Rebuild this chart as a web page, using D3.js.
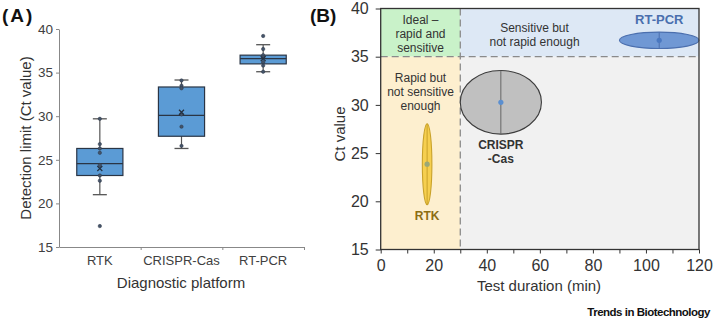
<!DOCTYPE html>
<html>
<head>
<meta charset="utf-8">
<script src="https://cdn.jsdelivr.net/npm/d3@7"></script>
<style>
  body { margin: 0; background: #fff; }
  svg { font-family: "Liberation Sans", Arial, sans-serif; display: block; }
</style>
</head>
<body>
<div id="chart"></div>
<script>
// panel A - box plots of detection limit
const platforms = ["RTK", "CRISPR-Cas", "RT-PCR"];
const q1 = [23.2, 27.7, 36.0];
const medians = [24.55, 30.1, 36.6];
const q3 = [26.3, 33.35, 37.0];
const whiskerLow = [21.0, 26.3, 35.1];
const whiskerHigh = [29.7, 34.15, 38.2];
const means = [24.0, 30.45, 36.6];
const pointValues = [
  [29.7, 26.8, 26.3, 25.8, 24.4, 23.2, 22.6, 17.4],
  [34.1, 33.5, 33.2, 30.2, 28.8, 26.6],
  [39.2, 37.7, 37.0, 36.75, 36.2, 35.8, 35.1]
];
const ctTicksA = [15, 20, 25, 30, 35, 40];

// panel B - ct value vs test duration
const methods = ["RTK", "CRISPR-Cas", "RT-PCR"];
const durations = [17.5, 45.3, 105.0];
const ctCentres = [23.85, 30.27, 36.7];
const durationSpread = [1.8, 15.3, 15.0];
const ctSpread = [4.2, 3.3, 0.85];
const methodLabels = [["RTK"], ["CRISPR", "-Cas"], ["RT-PCR"]];
const timeLimit = 30;
const ctLimit = 35;
const ctTicksB = [15, 20, 25, 30, 35, 40];
const durationTicks = [0, 10, 20, 30, 40, 50, 60, 70, 80, 90, 100, 110, 120];

const width = 714, height = 321;

const svg = d3.select("#chart").append("svg")
  .attr("width", width)
  .attr("height", height);

function panelA() {
  let x = d3.scaleBand().domain(platforms).range([59, 304]).padding(0);
  let y = d3.scaleLinear().domain([15, 40]).range([247, 29]);
  let boxW = x.bandwidth() * 0.565;
  let capW = 14;
  let g = svg.append("g");

  g.append("g")
    .attr("transform", "translate(59,0)")
    .call(d3.axisLeft(y).tickValues(ctTicksA).tickSize(3).tickPadding(3).tickSizeOuter(0))
    .call(a => a.select(".domain").attr("stroke", "#888"))
    .call(a => a.selectAll(".tick line").attr("stroke", "#888"))
    .call(a => a.selectAll(".tick text").attr("font-size", 13.5).attr("fill", "#404040")
      .attr("font-family", "Liberation Sans, Arial, sans-serif"));

  // bottom axis: ticks on band edges, labels centred
  let edges = d3.scaleLinear().domain([0, 3]).range([59, 304]);
  g.append("g")
    .attr("transform", "translate(0,247)")
    .call(d3.axisBottom(edges).tickValues([1, 2, 3]).tickSize(3).tickFormat("").tickSizeOuter(0))
    .call(a => a.select(".domain").attr("stroke", "#888"))
    .call(a => a.selectAll(".tick line").attr("stroke", "#888"));

  g.selectAll(".cat")
    .data(platforms)
    .join("text")
    .attr("x", d => x(d) + x.bandwidth() / 2)
    .attr("y", 265)
    .attr("text-anchor", "middle")
    .attr("font-size", 13)
    .attr("fill", "#404040")
    .text(d => d);

  g.append("text")
    .attr("x", 181).attr("y", 288)
    .attr("text-anchor", "middle")
    .attr("font-size", 15)
    .attr("fill", "#333")
    .text("Diagnostic platform");

  g.append("text")
    .attr("transform", "translate(31,138) rotate(-90)")
    .attr("text-anchor", "middle")
    .attr("font-size", 15)
    .attr("fill", "#333")
    .text("Detection limit (Ct value)");

  let boxes = g.selectAll(".box")
    .data(platforms)
    .join("g")
    .attr("transform", d => `translate(${x(d) + x.bandwidth() / 2},0)`);

  boxes.append("line")
    .attr("x1", 0).attr("x2", 0)
    .attr("y1", (d, i) => y(whiskerLow[i]))
    .attr("y2", (d, i) => y(whiskerHigh[i]))
    .attr("stroke", "#555").attr("stroke-width", 1.2);

  boxes.selectAll(".cap")
    .data((d, i) => [whiskerLow[i], whiskerHigh[i]])
    .join("line")
    .attr("x1", -capW / 2).attr("x2", capW / 2)
    .attr("y1", v => y(v)).attr("y2", v => y(v))
    .attr("stroke", "#555").attr("stroke-width", 1.3);

  boxes.append("rect")
    .attr("x", -boxW / 2)
    .attr("width", boxW)
    .attr("y", (d, i) => y(q3[i]))
    .attr("height", (d, i) => y(q1[i]) - y(q3[i]))
    .attr("fill", "#5b9bd5")
    .attr("stroke", "#2a3545")
    .attr("stroke-width", 1.2);

  boxes.append("line")
    .attr("x1", -boxW / 2).attr("x2", boxW / 2)
    .attr("y1", (d, i) => y(medians[i])).attr("y2", (d, i) => y(medians[i]))
    .attr("stroke", "#2a3545").attr("stroke-width", 1.3);

  boxes.selectAll(".pt")
    .data((d, i) => pointValues[i])
    .join("circle")
    .attr("cx", 0)
    .attr("cy", v => y(v))
    .attr("r", 1.7)
    .attr("fill", "#44546a")
    .attr("stroke", "#2a3545")
    .attr("stroke-width", 0.5);

  boxes.append("path")
    .attr("transform", (d, i) => `translate(0,${y(means[i])})`)
    .attr("d", d3.symbol(d3.symbolX, 18))
    .attr("stroke", "#24303f")
    .attr("stroke-width", 1.2)
    .attr("fill", "none");

  svg.append("text")
    .attr("x", 2).attr("y", 22)
    .attr("font-size", 19)
    .attr("font-weight", "bold")
    .attr("letter-spacing", 2)
    .attr("fill", "#111")
    .text("(A)");
}

function panelB() {
  let x = d3.scaleLinear().domain([0, 120]).range([380.7, 699]);
  let y = d3.scaleLinear().domain([15, 40]).range([249.5, 8.5]);
  let g = svg.append("g");

  // background zones
  let zones = [
    { x0: 0, x1: timeLimit, y0: ctLimit, y1: 40, fill: "#c9f2c9" },
    { x0: timeLimit, x1: 120, y0: ctLimit, y1: 40, fill: "#dde8f5" },
    { x0: 0, x1: timeLimit, y0: 15, y1: ctLimit, fill: "#fdefcf" },
    { x0: timeLimit, x1: 120, y0: 15, y1: ctLimit, fill: "#f1f1f1" }
  ];
  g.selectAll(".zone")
    .data(zones)
    .join("rect")
    .attr("x", d => x(d.x0))
    .attr("y", d => y(d.y1))
    .attr("width", d => x(d.x1) - x(d.x0))
    .attr("height", d => y(d.y0) - y(d.y1))
    .attr("fill", d => d.fill);

  g.append("line")
    .attr("x1", x(timeLimit)).attr("x2", x(timeLimit))
    .attr("y1", y(40)).attr("y2", y(15))
    .attr("stroke", "#8a8a8a").attr("stroke-width", 1.3).attr("stroke-dasharray", "7,4");
  g.append("line")
    .attr("x1", x(0)).attr("x2", x(120))
    .attr("y1", y(ctLimit)).attr("y2", y(ctLimit))
    .attr("stroke", "#8a8a8a").attr("stroke-width", 1.3).attr("stroke-dasharray", "7,4");

  // zone captions
  let captions = [
    { cx: 15, lines: ["Ideal –", "rapid and", "sensitive"], top: 20 },
    { cx: 58, lines: ["Sensitive but", "not rapid enough"], top: 27.5 },
    { cx: 15, lines: ["Rapid but", "not sensitive", "enough"], top: 78 }
  ];
  captions.forEach(c => {
    g.append("text")
      .attr("text-anchor", "middle")
      .attr("font-size", 12)
      .attr("fill", "#333")
      .selectAll("tspan")
      .data(c.lines)
      .join("tspan")
      .attr("x", x(c.cx))
      .attr("y", (d, i) => c.top + 4 + i * 14)
      .text(d => d);
  });

  let fills = ["#f6cf4f", "#c0c0c0", "#7098d4"];
  let strokes = ["#c9a22a", "#3c3c3c", "#4b6fae"];
  let lineColors = ["#c9a22a", "#666", "#4b6fae"];
  let dotColors = ["#9aa877", "#5b8fd0", "#4a78c0"];
  let labelColors = ["#8c6d12", "#333", "#4a6fae"];

  let marks = g.selectAll(".method")
    .data(methods)
    .join("g");

  marks.append("ellipse")
    .attr("cx", (d, i) => x(durations[i]))
    .attr("cy", (d, i) => y(ctCentres[i]))
    .attr("rx", (d, i) => x(durations[i] + durationSpread[i]) - x(durations[i]))
    .attr("ry", (d, i) => y(ctCentres[i] - ctSpread[i]) - y(ctCentres[i]))
    .attr("fill", (d, i) => fills[i])
    .attr("stroke", (d, i) => strokes[i])
    .attr("stroke-width", 1.1);

  marks.append("line")
    .attr("x1", (d, i) => x(durations[i]))
    .attr("x2", (d, i) => x(durations[i]))
    .attr("y1", (d, i) => y(ctCentres[i] + ctSpread[i]))
    .attr("y2", (d, i) => y(ctCentres[i] - ctSpread[i]))
    .attr("stroke", (d, i) => lineColors[i])
    .attr("stroke-width", 1);

  marks.append("circle")
    .attr("cx", (d, i) => x(durations[i]))
    .attr("cy", (d, i) => y(ctCentres[i]))
    .attr("r", 2.6)
    .attr("fill", (d, i) => dotColors[i]);

  // method labels, below the ellipse except RT-PCR which sits above
  marks.append("text")
    .attr("text-anchor", "middle")
    .attr("font-weight", "bold")
    .attr("font-size", (d, i) => i == 2 ? 13 : 12)
    .attr("fill", (d, i) => labelColors[i])
    .each(function(d, i) {
      let cy = i == 2
        ? y(ctCentres[i] + ctSpread[i]) - 8
        : y(ctCentres[i] - ctSpread[i]) + 15;
      d3.select(this).selectAll("tspan")
        .data(methodLabels[i])
        .join("tspan")
        .attr("x", x(durations[i]))
        .attr("y", (t, k) => cy + k * 14)
        .text(t => t);
    });

  // frame
  g.append("rect")
    .attr("x", x(0)).attr("y", y(40))
    .attr("width", x(120) - x(0))
    .attr("height", y(15) - y(40))
    .attr("fill", "none")
    .attr("stroke", "#333")
    .attr("stroke-width", 1.3);

  g.append("g")
    .attr("transform", `translate(${x(0)},0)`)
    .call(d3.axisLeft(y).tickValues(ctTicksB).tickSize(5).tickPadding(7).tickSizeOuter(0))
    .call(a => a.select(".domain").remove())
    .call(a => a.selectAll(".tick line").attr("stroke", "#333"))
    .call(a => a.selectAll(".tick text").attr("font-size", 16).attr("fill", "#333")
      .attr("font-family", "Liberation Sans, Arial, sans-serif"));

  g.append("g")
    .attr("transform", `translate(0,${y(15)})`)
    .call(d3.axisBottom(x).tickValues(durationTicks).tickSize(4).tickPadding(6)
      .tickFormat(d => d % 20 == 0 ? d : "").tickSizeOuter(0))
    .call(a => a.select(".domain").remove())
    .call(a => a.selectAll(".tick line").attr("stroke", "#333"))
    .call(a => a.selectAll(".tick text").attr("font-size", 16).attr("fill", "#333")
      .attr("font-family", "Liberation Sans, Arial, sans-serif"));

  g.append("text")
    .attr("x", 539).attr("y", 291)
    .attr("text-anchor", "middle")
    .attr("font-size", 15)
    .attr("fill", "#333")
    .text("Test duration (min)");

  g.append("text")
    .attr("transform", "translate(345,134) rotate(-90)")
    .attr("text-anchor", "middle")
    .attr("font-size", 15)
    .attr("fill", "#333")
    .text("Ct value");

  svg.append("text")
    .attr("x", 310).attr("y", 22)
    .attr("font-size", 19)
    .attr("font-weight", "bold")
    .attr("fill", "#111")
    .text("(B)");
}

panelA();
panelB();

svg.append("text")
  .attr("x", 710).attr("y", 316)
  .attr("text-anchor", "end")
  .attr("font-size", 11.5)
  .attr("font-weight", "bold")
  .attr("letter-spacing", -0.5)
  .attr("fill", "#111")
  .text("Trends in Biotechnology");
</script>
</body>
</html>
